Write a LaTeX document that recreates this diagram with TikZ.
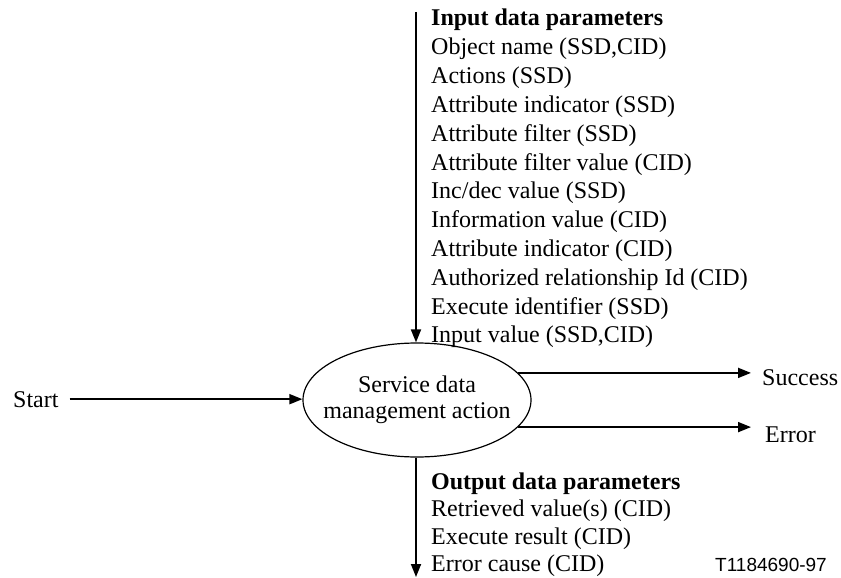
\documentclass[tikz,border=0pt]{standalone}
\usepackage{fontspec}
\setmainfont{Liberation Serif}
\newfontfamily\labelsans{Liberation Sans}
\usetikzlibrary{arrows.meta,shapes.geometric}
\begin{document}
\begin{tikzpicture}[x=1pt,y=-1pt,
  txt/.style={anchor=base west,inner sep=0pt,font=\fontsize{24}{26}\selectfont},
  conn/.style={line width=1.8pt,-{Triangle[length=13pt,width=10pt]}},
  bubble/.style={ellipse,draw,line width=1.2pt,minimum width=228pt,minimum height=114pt,
     inner xsep=-20pt,inner ysep=0pt,align=center,font=\fontsize{24}{26}\selectfont}]
\useasboundingbox (0,0) rectangle (841,578);
% ellipse
\node[bubble] (ell) at (417,400) {Service data\\management action};
% input parameters
\node[txt,font=\fontsize{24}{26}\selectfont\bfseries] (inh) at (431,26) {Input data parameters};
\foreach \t [count=\i] in {Object name (SSD{,}CID),Actions (SSD),Attribute indicator (SSD),
  Attribute filter (SSD),Attribute filter value (CID),Inc/dec value (SSD),
  Information value (CID),Attribute indicator (CID),Authorized relationship Id (CID),
  Execute identifier (SSD),Input value (SSD{,}CID)}
  \node[txt] (in\i) at (431,{26+28.8*\i}) {\t};
% output parameters
\node[txt,font=\fontsize{24}{26}\selectfont\bfseries] (outh) at (431,489) {Output data parameters};
\node[txt] (out1) at (431,516.5) {Retrieved value(s) (CID)};
\node[txt] (out2) at (431,544) {Execute result (CID)};
\node[txt] (out3) at (431,571.5) {Error cause (CID)};
\node[anchor=base west,inner sep=0pt,font=\labelsans\fontsize{19}{22}\selectfont] (tag) at (715,571.5) {T1184690-97};
% side labels
\node[txt] (start) at (13,407) {Start};
\node[txt] (succ) at (762,385) {Success};
\node[txt] (err) at (765,442) {Error};
% connectors
\coordinate (intop) at (416,12);
\coordinate (outbot) at (416,577);
\coordinate (sucend) at (751,0);
\coordinate (errend) at (751,0);
\draw[conn] (intop) -- (intop |- ell.north);
\draw[conn] (ell.south -| outbot) -- (outbot);
\draw[conn] (start.east) ++(11pt,0) coordinate (st) -- (st -| ell.west);
\draw[conn] (ell.15) -- (ell.15 -| sucend);
\draw[conn] (ell.-15) -- (ell.-15 -| errend);
\end{tikzpicture}
\end{document}
